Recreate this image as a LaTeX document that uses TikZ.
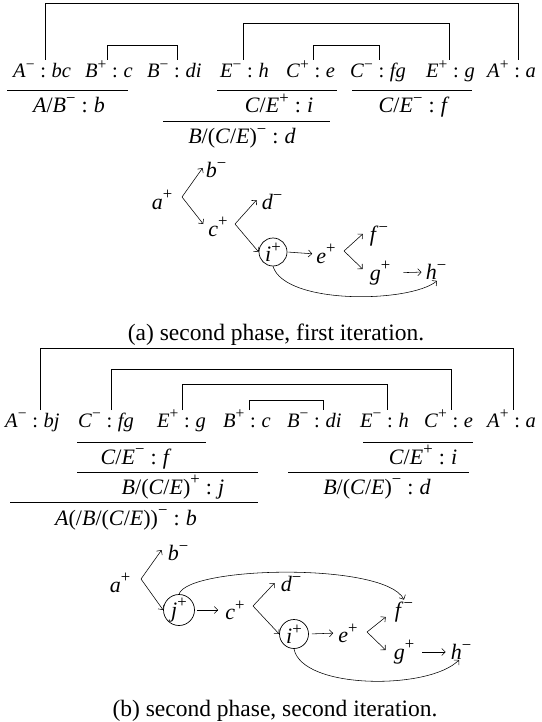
\documentclass[tikz,border=0pt]{standalone}
\usepackage{fontspec}
\setmainfont{Liberation Serif}
\usetikzlibrary{arrows.meta,calc}
\newcommand\rowsz{\fontsize{20.5}{24}\selectfont}
\newcommand\lblsz{\fontsize{22}{26}\selectfont}
\newcommand\capsz{\fontsize{23.5}{28}\selectfont}
\newcommand\spx[1]{\raisebox{0.42em}{\fontsize{0.76em}{0.76em}\selectfont #1}}
\newcommand\cl{\hspace{0.278em}:\hspace{0.278em}}
\newcommand\I[1]{\textit{#1}}
\newcommand\mn{−}
\begin{document}
\begin{tikzpicture}[x=1pt,y=-1pt,
  item/.style={inner sep=0pt,anchor=base west,font=\rowsz},
  lbl/.style={inner sep=0pt,anchor=base,font=\lblsz},
  tn/.style={inner sep=1pt,font=\lblsz},
  cn/.style={circle,draw,line width=0.7pt,inner sep=0pt,minimum size=#1,font=\lblsz},
  brk/.style={line width=0.8pt},
  ul/.style={line width=0.8pt},
  arr/.style={line width=0.55pt,-{Straight Barb[length=3.5pt,width=7pt]}},
  captxt/.style={font=\capsz,inner sep=0pt,anchor=base}]
\useasboundingbox (0,0) rectangle (541,722);
\fill[white] (0,0) rectangle (541,722);

% ---------------- (a) ----------------
\node[item] (a1) at (13,78) {\I{A}\spx{\mn}\cl\I{bc}};
\node[item] (a2) at (85,78) {\I{B}\spx{+}\cl\I{c}};
\node[item] (a3) at (147,78) {\I{B}\spx{\mn}\cl\I{di}};
\node[item] (a4) at (220,78) {\I{E}\spx{\mn}\cl\I{h}};
\node[item] (a5) at (286,78) {\I{C}\spx{+}\cl\I{e}};
\node[item] (a6) at (350,78) {\I{C}\spx{\mn}\cl\I{fg}};
\node[item] (a7) at (426,78) {\I{E}\spx{+}\cl\I{g}};
\node[item] (a8) at (487,78) {\I{A}\spx{+}\cl\I{a}};

\coordinate (pa1) at (45,60);  \coordinate (pa8) at (518,60);
\coordinate (pa2) at (107,60); \coordinate (pa3) at (177,60);
\coordinate (pa4) at (243,60); \coordinate (pa7) at (449,60);
\coordinate (pa5) at (313,60); \coordinate (pa6) at (379,60);
\draw[brk] (pa1) -- ++(0,-57) -| (pa8);
\draw[brk] (pa2) -- ++(0,-15) -| (pa3);
\draw[brk] (pa4) -- ++(0,-37) -| (pa7);
\draw[brk] (pa5) -- ++(0,-15) -| (pa6);

\draw[ul] (7,90) -- (128,90);
\node[lbl] (la1) at (69,113) {\I{A}/\I{B}\spx{\mn}\cl\I{b}};
\draw[ul] (217,90) -- (337,90);
\node[lbl] (la2) at (279,113) {\I{C}/\I{E}\spx{+}\cl\I{i}};
\draw[ul] (352,90) -- (472,90);
\node[lbl] (la3) at (414,113) {\I{C}/\I{E}\spx{\mn}\cl\I{f}};
\draw[ul] (163,121) -- (330,121);
\node[lbl] (la4) at (242,144) {\I{B}/(\I{C}/\I{E})\spx{\mn}\cl\I{d}};

\node[tn] (ta) at (162,200) {\I{a}\spx{+}};
\node[tn] (tb) at (216,170) {\I{b}\spx{\mn}};
\node[tn] (tc) at (218,227) {\I{c}\spx{+}};
\node[tn] (td) at (272,202) {\I{d}\spx{\mn}};
\node[cn=28pt] (ti) at (273,252) {\I{i}\spx{+}};
\node[tn] (te) at (326,254) {\I{e}\spx{+}};
\node[tn] (tf) at (379,236) {\I{f}\spx{\mn}};
\node[tn] (tg) at (380,273) {\I{g}\spx{+}};
\node[tn] (th) at (436,272) {\I{h}\spx{\mn}};

\coordinate (va) at (182,197);
\draw[arr] (va) -- ($(tb.west)+(-2,-2)$);
\draw[arr] (va) -- ($(tc.west)+(-4,-3)$);
\coordinate (vc) at (235,224);
\draw[arr] (vc) -- ($(td.west)+(-4,-2)$);
\draw[arr] (vc) -- (ti.west);
\draw[arr,shorten <=1pt,shorten >=3pt] (ti.east) -- (te.west);
\coordinate (ve) at (344,251);
\draw[arr] (ve) -- ($(tf.west)+(-6,-2)$);
\draw[arr] (ve) -- ($(tg.west)+(-6,-4)$);
\draw[arr,shorten <=12pt,shorten >=3pt] (tg.east) -- (th.west);
\draw[arr] (ti.south) .. controls (285,305) and (410,303) .. ($(th.south)+(1,0)$);

\node[captxt] (capa) at (276,340) {(a) second phase, first iteration.};

% ---------------- (b) ----------------
\node[item] (b1) at (5,427) {\I{A}\spx{\mn}\cl\I{bj}};
\node[item] (b2) at (78,427) {\I{C}\spx{\mn}\cl\I{fg}};
\node[item] (b3) at (157,427) {\I{E}\spx{+}\cl\I{g}};
\node[item] (b4) at (223,427) {\I{B}\spx{+}\cl\I{c}};
\node[item] (b5) at (287,427) {\I{B}\spx{\mn}\cl\I{di}};
\node[item] (b6) at (360,427) {\I{E}\spx{\mn}\cl\I{h}};
\node[item] (b7) at (424,427) {\I{C}\spx{+}\cl\I{e}};
\node[item] (b8) at (487,427) {\I{A}\spx{+}\cl\I{a}};

\coordinate (pb1) at (40,410);  \coordinate (pb8) at (513,410);
\coordinate (pb2) at (111,410); \coordinate (pb7) at (451,410);
\coordinate (pb3) at (182,410); \coordinate (pb6) at (387,410);
\coordinate (pb4) at (249,410); \coordinate (pb5) at (323,410);
\draw[brk] (pb1) -- ++(0,-62) -| (pb8);
\draw[brk] (pb2) -- ++(0,-41) -| (pb7);
\draw[brk] (pb3) -- ++(0,-26) -| (pb6);
\draw[brk] (pb4) -- ++(0,-10) -| (pb5);

\draw[ul] (77,442) -- (206,442);
\node[lbl] (lb1) at (136,464) {\I{C}/\I{E}\spx{\mn}\cl\I{f}};
\draw[ul] (77,472) -- (258,472);
\node[lbl] (lb2) at (173,494) {\I{B}/(\I{C}/\I{E})\spx{+}\cl\I{j}};
\draw[ul] (10,502) -- (258,502);
\node[lbl] (lb3) at (126,525) {\I{A}(/\I{B}/(\I{C}/\I{E}))\spx{\mn}\cl\I{b}};
\draw[ul] (363,442) -- (473,442);
\node[lbl] (lb4) at (423,464) {\I{C}/\I{E}\spx{+}\cl\I{i}};
\draw[ul] (288,472) -- (469,472);
\node[lbl] (lb5) at (377,494) {\I{B}/(\I{C}/\I{E})\spx{\mn}\cl\I{d}};

\node[tn] (sa) at (120,583) {\I{a}\spx{+}};
\node[tn] (sb) at (178,553) {\I{b}\spx{\mn}};
\node[cn=31pt] (sj) at (179,610) {\I{j}\spx{+}};
\node[tn] (sc) at (235,610) {\I{c}\spx{+}};
\node[tn] (sd) at (291,584) {\I{d}\spx{\mn}};
\node[cn=29pt] (si) at (294,634) {\I{i}\spx{+}};
\node[tn] (se) at (348,633) {\I{e}\spx{+}};
\node[tn] (sf) at (404,612) {\I{f}\spx{\mn}};
\node[tn] (sg) at (404,652) {\I{g}\spx{+}};
\node[tn] (sh) at (461,652) {\I{h}\spx{\mn}};

\coordinate (wa) at (141,579);
\draw[arr] (wa) -- ($(sb.west)+(-5,-3)$);
\draw[arr] (wa) -- (sj.west);
\draw[arr,shorten <=2pt,shorten >=6pt] (sj.east) -- (sc.west);
\coordinate (wc) at (253,606);
\draw[arr] (wc) -- ($(sd.west)+(-5,-1)$);
\draw[arr] (wc) -- (si.west);
\draw[arr,shorten <=3pt,shorten >=4pt] (si.east) -- (se.west);
\coordinate (we) at (367,632);
\draw[arr] (we) -- ($(sf.west)+(-8,5)$);
\draw[arr] (we) -- ($(sg.west)+(-7,-2)$);
\draw[arr,shorten <=7pt,shorten >=4pt] (sg.east) -- (sh.west);
\draw[arr] (sj.north) .. controls (188,566) and (385,562) .. ($(sf.north)+(0,-1)$);
\draw[arr] (si.south) .. controls (302,690) and (430,690) .. ($(sh.south)+(-2,-1)$);

\node[captxt] (capb) at (275,716) {(b) second phase, second iteration.};
\end{tikzpicture}
\end{document}
